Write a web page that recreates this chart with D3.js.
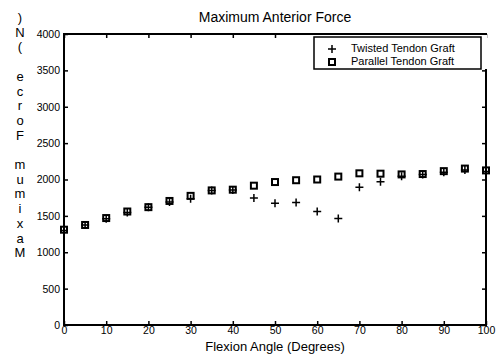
<!DOCTYPE html>
<html>
<head>
<meta charset="utf-8">
<script src="https://cdn.jsdelivr.net/npm/d3@7"></script>
<style>
  body { margin: 0; background: #fff; }
  text { font-family: "Liberation Sans", Arial, sans-serif; fill: #000; }
</style>
</head>
<body>
<div id="chart"></div>
<script>
// data
var angles = [0, 5, 10, 15, 20, 25, 30, 35, 40, 45, 50, 55, 60, 65, 70, 75, 80, 85, 90, 95, 100];
var twisted = [1300, 1375, 1460, 1545, 1620, 1690, 1735, 1850, 1855, 1745, 1675, 1685, 1560, 1465, 1895, 1970, 2045, 2070, 2100, 2130, 2110];
var parallel = [1310, 1375, 1470, 1560, 1620, 1705, 1775, 1850, 1860, 1915, 1965, 1990, 2000, 2040, 2085, 2080, 2070, 2075, 2115, 2150, 2125];
var xTicks = [0, 10, 20, 30, 40, 50, 60, 70, 80, 90, 100];
var yTicks = [0, 500, 1000, 1500, 2000, 2500, 3000, 3500, 4000];
var seriesNames = ["Twisted Tendon Graft", "Parallel Tendon Graft"];

var W = 498, H = 356;
var margin = { top: 34, right: 12, bottom: 31, left: 64 },
  width = W - margin.left - margin.right,
  height = H - margin.top - margin.bottom;

var svg = d3.select("#chart").append("svg")
  .attr("width", W).attr("height", H);

var g = svg.append("g")
  .attr("transform", "translate(" + margin.left + "," + margin.top + ")");

var x = d3.scaleLinear().domain([0, 100]).range([0, width]);
var y = d3.scaleLinear().domain([0, 4000]).range([height, 0]);
var fmt = d3.format("d");

// axes, ticks pointing inward on all four sides
function styleAxis(sel) {
  sel.select(".domain").remove();
  sel.selectAll(".tick line").attr("stroke", "#000").attr("stroke-width", 1.5);
  sel.selectAll(".tick text").style("font-size", "10.5px").attr("fill", "#000");
}
g.append("g").attr("transform", "translate(0," + height + ")")
  .call(d3.axisBottom(x).tickValues(xTicks).tickSizeInner(-4).tickSizeOuter(0).tickPadding(2).tickFormat(fmt))
  .call(styleAxis);
g.append("g")
  .call(d3.axisTop(x).tickValues(xTicks).tickSizeInner(-4).tickSizeOuter(0).tickFormat(""))
  .call(styleAxis);
g.append("g")
  .call(d3.axisLeft(y).tickValues(yTicks).tickSizeInner(-4).tickSizeOuter(0).tickPadding(4).tickFormat(fmt))
  .call(styleAxis);
g.append("g").attr("transform", "translate(" + width + ",0)")
  .call(d3.axisRight(y).tickValues(yTicks).tickSizeInner(-4).tickSizeOuter(0).tickFormat(""))
  .call(styleAxis);

// frame
g.append("rect")
  .attr("width", width).attr("height", height)
  .attr("fill", "none").attr("stroke", "#000").attr("stroke-width", 2);

// markers
function plus(sel, s) {
  sel.append("path")
    .attr("d", "M" + (-s) + ",0H" + s + "M0," + (-s) + "V" + s)
    .attr("stroke", "#000").attr("stroke-width", 1.5).attr("fill", "none");
}
function square(sel, s) {
  sel.append("rect")
    .attr("x", -s).attr("y", -s).attr("width", 2 * s).attr("height", 2 * s)
    .attr("stroke", "#000").attr("stroke-width", 2).attr("fill", "none");
}

var pts = g.append("g");
angles.forEach(function (a, i) {
  pts.append("g").attr("transform", "translate(" + x(a) + "," + y(twisted[i]) + ")").call(plus, 4);
  pts.append("g").attr("transform", "translate(" + x(a) + "," + y(parallel[i]) + ")").call(square, 3);
});

// legend
var lg = svg.append("g").attr("transform", "translate(314,37)");
lg.append("rect").attr("x", 0).attr("y", -2).attr("width", 173).attr("height", 34).attr("fill", "#fff");
lg.append("rect").attr("width", 167).attr("height", 32)
  .attr("fill", "#fff").attr("stroke", "#000").attr("stroke-width", 1.5);
lg.append("g").attr("transform", "translate(18,12)").call(plus, 4);
lg.append("g").attr("transform", "translate(18,25)").call(square, 3);
lg.append("text").attr("x", 37).attr("y", 15).style("font-size", "11px").text(seriesNames[0]);
lg.append("text").attr("x", 37).attr("y", 28).style("font-size", "11px").text(seriesNames[1]);

// title and axis labels
svg.append("text")
  .attr("x", margin.left + width / 2).attr("y", 22)
  .attr("text-anchor", "middle").style("font-size", "14px")
  .text("Maximum Anterior Force");
svg.append("text")
  .attr("x", margin.left + width / 2).attr("y", 351)
  .attr("text-anchor", "middle").style("font-size", "13px")
  .text("Flexion Angle (Degrees)");

// y label, one character per line, as in the original printout
var yLabel = "Maximum Force (N)".split("").reverse();
svg.append("g").selectAll("text")
  .data(yLabel).enter().append("text")
  .attr("x", 20)
  .attr("y", function (d, i) { return 22 + i * 14.7; })
  .attr("text-anchor", "middle").style("font-size", "13px")
  .text(function (d) { return d; });
</script>
</body>
</html>
